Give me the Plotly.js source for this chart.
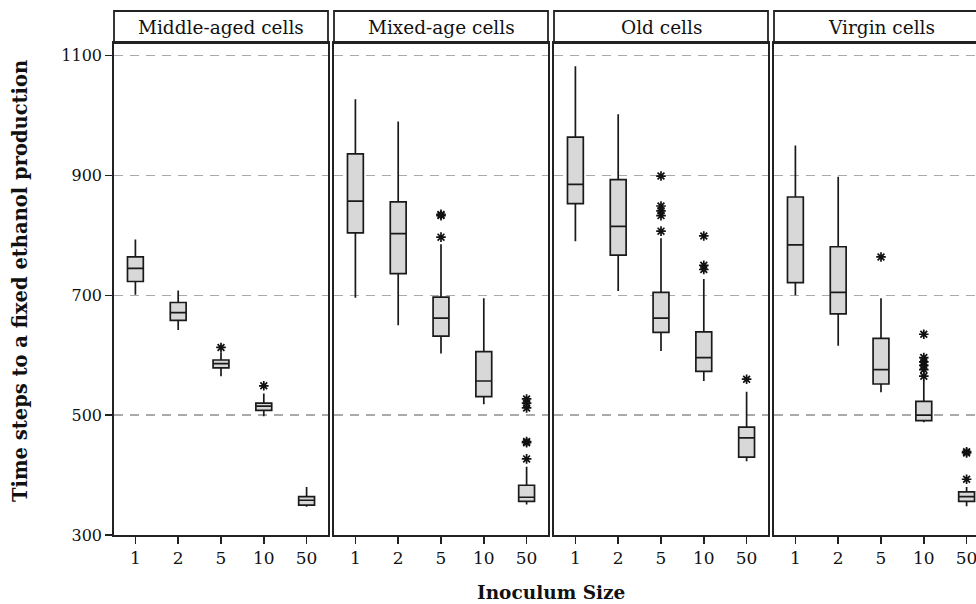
<!DOCTYPE html>
<html>
<head>
<meta charset="utf-8">
<script src="https://cdn.plot.ly/plotly-3.0.1.min.js"></script>
<style>
html,body{margin:0;padding:0;overflow:hidden;background:#fff;width:976px;height:604px;}
#chart{width:990px;height:604px;}
</style>
</head>
<body>
<div id="chart"></div>
<script>
// Categories (inoculum size)
const categories = ['1', '2', '5', '10', '50'];
const panelNames = ['Middle-aged cells', 'Mixed-age cells', 'Old cells', 'Virgin cells'];

// Middle-aged cells
const midLower  = [701, 642, 565, 498, 347];
const midQ1     = [723, 658, 579, 508, 350];
const midMedian = [745, 671, 586, 515, 358];
const midQ3     = [764, 688, 592, 520, 364];
const midUpper  = [793, 708, 605, 536, 380];
const midOutX   = ['5', '10'];
const midOutY   = [613, 549];

// Mixed-age cells
const mixLower  = [696, 650, 603, 518, 351];
const mixQ1     = [804, 736, 632, 531, 356];
const mixMedian = [857, 803, 662, 557, 363];
const mixQ3     = [936, 856, 697, 606, 383];
const mixUpper  = [1027, 990, 785, 695, 414];
const mixOutX   = ['5', '5', '5', '50', '50', '50', '50', '50', '50'];
const mixOutY   = [833, 835, 797, 527, 520, 512, 454, 456, 427];

// Old cells
const oldLower  = [790, 707, 607, 557, 423];
const oldQ1     = [853, 767, 638, 573, 430];
const oldMedian = [885, 815, 662, 596, 462];
const oldQ3     = [964, 893, 705, 639, 480];
const oldUpper  = [1082, 1002, 795, 727, 539];
const oldOutX   = ['5', '5', '5', '5', '5', '10', '10', '10', '50'];
const oldOutY   = [899, 849, 841, 833, 807, 799, 750, 743, 560];

// Virgin cells
const virLower  = [700, 616, 538, 488, 348];
const virQ1     = [721, 669, 552, 491, 356];
const virMedian = [784, 705, 576, 500, 364];
const virQ3     = [864, 781, 628, 523, 372];
const virUpper  = [950, 898, 695, 558, 380];
const virOutX   = ['5', '10', '10', '10', '10', '10', '10', '50', '50', '50'];
const virOutY   = [764, 635, 596, 589, 583, 576, 565, 437, 439, 393];

const yTicks = [300, 500, 700, 900, 1100];

const panels = [
  {lower: midLower, q1: midQ1, med: midMedian, q3: midQ3, upper: midUpper, ox: midOutX, oy: midOutY},
  {lower: mixLower, q1: mixQ1, med: mixMedian, q3: mixQ3, upper: mixUpper, ox: mixOutX, oy: mixOutY},
  {lower: oldLower, q1: oldQ1, med: oldMedian, q3: oldQ3, upper: oldUpper, ox: oldOutX, oy: oldOutY},
  {lower: virLower, q1: virQ1, med: virMedian, q3: virQ3, upper: virUpper, ox: virOutX, oy: virOutY}
];

const FONT = 'DejaVu Serif, Liberation Serif, serif';
const totalW = 990, mL = 114, mR = 2, mT = 11, mB = 69, H = 604;
const plotW = totalW - mL - mR;         // 874
const plotH = H - mT - mB;              // 524
const panelW = 214, gap = 6, headerH = 32;
const yTop = (plotH - headerH) / plotH;
const plotBottom = H - mB;              // 535

const traces = [];
const layout = {
  width: totalW, height: H,
  margin: {l: mL, r: mR, t: mT, b: mB},
  paper_bgcolor: '#fff', plot_bgcolor: '#fff',
  showlegend: false,
  font: {family: FONT, color: '#111', size: 16},
  shapes: [], annotations: []
};

panels.forEach((p, i) => {
  const sfx = i === 0 ? '' : String(i + 1);
  const xa = 'x' + sfx, ya = 'y' + sfx;
  const d0 = (i * (panelW + gap)) / plotW;
  const d1 = (i * (panelW + gap) + panelW) / plotW;
  traces.push({
    type: 'box', xaxis: xa, yaxis: ya,
    x: categories,
    q1: p.q1, median: p.med, q3: p.q3,
    lowerfence: p.lower, upperfence: p.upper,
    boxpoints: false, width: 0.37, whiskerwidth: 0,
    fillcolor: '#d8d8d8',
    line: {color: '#1a1a1a', width: 1.7},
    hoverinfo: 'skip'
  });
  traces.push({
    type: 'scatter', mode: 'markers', xaxis: xa, yaxis: ya,
    x: p.ox, y: p.oy,
    marker: {symbol: 'asterisk-open', size: 8, color: '#111', line: {color: '#111', width: 1.7}},
    hoverinfo: 'skip'
  });
  layout['xaxis' + sfx] = {
    domain: [d0, d1], anchor: ya,
    type: 'category', categoryorder: 'array', categoryarray: categories,
    range: [-0.5, 4.5],
    showline: true, mirror: true, linecolor: '#222', linewidth: 1.8,
    ticks: 'outside', ticklen: 7, tickwidth: 1.5, tickcolor: '#222',
    showgrid: false, zeroline: false,
    tickfont: {family: FONT, size: 17, color: '#111'}
  };
  layout['yaxis' + sfx] = {
    domain: [0, yTop], anchor: xa,
    range: [300, 1121],
    tickvals: yTicks,
    showticklabels: i === 0,
    ticks: i === 0 ? 'outside' : '', ticklen: 7, tickwidth: 1.5, tickcolor: '#222',
    showline: true, mirror: true, linecolor: '#222', linewidth: 1.8,
    showgrid: true, gridcolor: '#aaaaaa', gridwidth: 1.5, griddash: '9px,7px',
    zeroline: false,
    tickfont: {family: FONT, size: 16, color: '#111'}
  };
  if (i > 0) layout['yaxis' + sfx].matches = 'y';
  layout.shapes.push({
    type: 'rect', xref: 'paper', yref: 'paper',
    x0: d0, x1: d1, y0: yTop, y1: 1,
    line: {color: '#222', width: 1.8}, fillcolor: 'rgba(0,0,0,0)'
  });
  layout.annotations.push({
    xref: 'paper', yref: 'paper', x: (d0 + d1) / 2, y: (yTop + 1) / 2,
    text: panelNames[i], showarrow: false, xanchor: 'center', yanchor: 'middle',
    font: {family: FONT, size: 18.5, color: '#111'}
  });
});

layout.annotations.push({
  xref: 'paper', yref: 'paper', x: 0.5, y: (plotBottom - 592) / plotH,
  text: '<b>Inoculum Size</b>', showarrow: false, xanchor: 'center', yanchor: 'middle',
  font: {family: FONT, size: 18.5, color: '#111'}
});
layout.annotations.push({
  xref: 'paper', yref: 'paper', x: (20 - mL) / plotW, y: (plotBottom - 281) / plotH,
  text: '<b>Time steps to a fixed ethanol production</b>', showarrow: false,
  textangle: -90, xanchor: 'center', yanchor: 'middle',
  font: {family: FONT, size: 19.5, color: '#111'}
});

Plotly.newPlot('chart', traces, layout, {staticPlot: true, displayModeBar: false});
</script>
</body>
</html>
